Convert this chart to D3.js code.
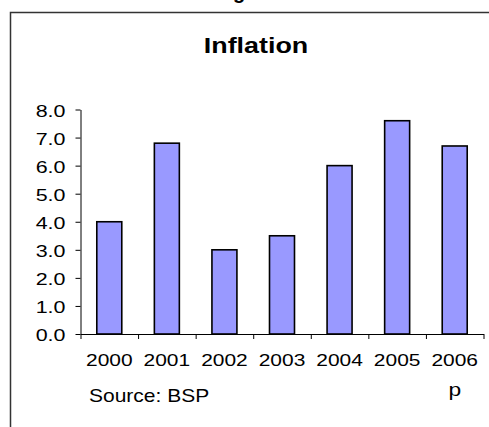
<!DOCTYPE html>
<html><head><meta charset="utf-8">
<script src="https://cdn.jsdelivr.net/npm/d3@7"></script>
<style>
html,body{margin:0;padding:0;background:#fff;}
svg{display:block;}
text{font-family:"Liberation Sans",Arial,sans-serif;fill:#000;}
</style></head>
<body>
<script>
const title = "Inflation";
const years = ["2000","2001","2002","2003","2004","2005","2006"];
const inflation = [4.0, 6.8, 3.0, 3.5, 6.0, 7.6, 6.7];
const yTicks = [0,1,2,3,4,5,6,7,8];
const source = "Source: BSP";
const note = "p";

const W = 489, H = 427;
const svg = d3.select("body").append("svg").attr("width", W).attr("height", H);

// partial heading clipped at top of the picture
svg.append("text").attr("x", 239).attr("y", -1).attr("text-anchor","middle")
  .attr("font-weight","bold").attr("font-size", 20).text("g");

// frame
svg.append("path").attr("d", `M10.5,${H} L10.5,12.5 L${W},12.5`)
  .attr("fill","none").attr("stroke","#333").attr("stroke-width",1.5);

// title
svg.append("text").attr("transform","translate(256,53) scale(1.25,1)")
  .attr("text-anchor","middle").attr("font-weight","bold").attr("font-size",21.5).text(title);

const x = d3.scaleBand().domain(years).range([80.5, 483.5]).paddingInner(0.566).paddingOuter(0.283);
const xEdge = d3.scaleLinear().domain([0, years.length]).range([80.5, 483.5]);
const y = d3.scaleLinear().domain([0, 8]).range([334, 109.5]);

// bars
svg.append("g").selectAll("rect").data(inflation).join("rect")
  .attr("x", (d,i) => x(years[i]))
  .attr("width", x.bandwidth())
  .attr("y", d => y(d))
  .attr("height", d => y(0) - y(d))
  .attr("fill", "#9999FF").attr("stroke", "#000").attr("stroke-width", 1.6);

// y axis
const gy = svg.append("g").attr("transform","translate(80.5,0)")
  .call(d3.axisLeft(y).tickValues(yTicks).tickFormat(d3.format(".1f")).tickSize(5).tickSizeOuter(0));
gy.select(".domain").attr("stroke","#000");
gy.selectAll(".tick line").attr("stroke","#000");
gy.selectAll(".tick text").attr("x", null).attr("dy","0.4em")
  .attr("transform","translate(-15,0) scale(1.3,1)")
  .attr("font-size", 16.5).attr("font-family","Liberation Sans, Arial, sans-serif");

// x axis: boundary ticks
const gx = svg.append("g").attr("transform","translate(0,334)")
  .call(d3.axisBottom(xEdge).tickValues(d3.range(years.length+1)).tickFormat("").tickSize(5).tickSizeOuter(0));
gx.select(".domain").attr("stroke","#000");
gx.selectAll(".tick line").attr("stroke","#000");

// x labels
const gl = svg.append("g").attr("transform","translate(0,334)")
  .call(d3.axisBottom(x).tickSize(0).tickSizeOuter(0));
gl.select(".domain").remove();
gl.selectAll(".tick text").attr("y", null).attr("dy", null)
  .attr("transform","translate(0,32) scale(1.27,1)")
  .attr("font-size", 16.5).attr("font-family","Liberation Sans, Arial, sans-serif");

// note under 2006
svg.append("text").attr("transform", `translate(${x("2006") + x.bandwidth()/2},396) scale(1.2,1)`)
  .attr("text-anchor","middle").attr("font-size",19).text(note);

// source
svg.append("text").attr("transform","translate(89,402) scale(1.2,1)")
  .attr("font-size",17.5).text(source);
</script>
</body></html>
